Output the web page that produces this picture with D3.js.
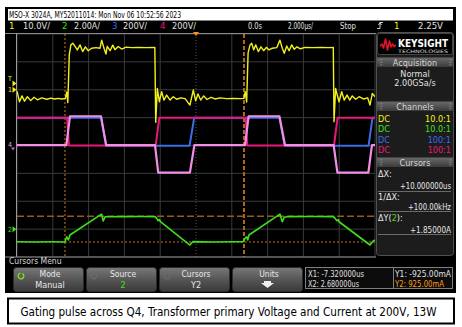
<!DOCTYPE html>
<html><head><meta charset="utf-8">
<script src="https://cdn.jsdelivr.net/npm/d3@7"></script>
<style>
html,body{margin:0;padding:0;background:#fff;}
svg{display:block;}
text{font-family:"Liberation Sans Narrow","DejaVu Sans Condensed","Liberation Sans",sans-serif;}
</style></head><body>
<svg id="c" width="462" height="327"></svg>
<script>
// ---------- data (time in µs, values in channel units) ----------
const ch1Wave = [[-10.0,-0.5],[-9.86,-4.3],[-9.72,-2.2],[-9.58,-4.1],[-9.42,-2.5],[-9.23,-3.9],[-9.05,-2.7],[-8.86,-3.6],[-8.62,-2.9],[-8.34,-3.4],[-8.10,-3.0],[-7.90,-3.3],[-7.70,-3.1],[-7.50,-3.3],[-7.30,-3.1],[-7.22,-0.8],[-7.16,-4.6],[-7.08,12.5],[-6.99,16.1],[-6.88,16.7],[-6.63,14.3],[-6.48,16.1],[-6.33,13.7],[-6.18,15.4],[-6.02,14.0],[-5.83,14.9],[-5.59,15.1],[-5.36,14.9],[-5.27,17.8],[-5.14,14.9],[-5.03,12.8],[-4.96,15.6],[-4.80,14.0],[-4.65,16.0],[-4.53,14.4],[-4.34,15.5],[-4.15,14.6],[-3.91,15.3],[-3.60,15.1],[-3.20,15.2],[-2.80,15.1],[-2.30,15.2],[-2.25,-11.7],[-2.16,0.5],[-2.05,-4.3],[-1.92,-0.7],[-1.79,-3.7],[-1.64,-1.9],[-1.45,-3.7],[-1.27,-2.5],[-1.08,-3.4],[-0.85,-2.9],[-0.61,-3.2],[-0.34,-5.5],[-0.15,-0.1],[-0.02,-4.0],[0.11,-1.5],[0.26,-3.7],[0.43,-2.2],[0.61,-3.5],[0.84,-2.7],[1.06,-3.3],[1.34,-2.9],[1.70,-3.2],[2.10,-3.1],[2.50,-3.2],[2.68,-3.1],[2.75,-0.7],[2.83,-4.4],[2.91,13.2],[3.02,16.1],[3.11,16.7],[3.22,14.3],[3.34,16.1],[3.48,13.7],[3.63,15.4],[3.78,14.0],[3.93,15.2],[4.08,14.3],[4.26,14.9],[4.51,15.1],[4.69,17.8],[4.82,14.9],[4.93,13.1],[5.07,15.7],[5.20,14.0],[5.35,16.1],[5.49,14.5],[5.64,15.4],[5.83,14.7],[6.09,15.2],[6.50,15.1],[7.00,15.2],[7.40,15.1],[7.67,15.2],[7.71,-11.5],[7.80,0.5],[7.89,-1.9],[7.99,-4.3],[8.14,-0.7],[8.28,-3.7],[8.44,-1.9],[8.59,-3.7],[8.73,-2.2],[8.92,-3.4],[9.11,-2.5],[9.35,-3.3],[9.59,-2.9],[9.72,-5.5],[9.85,-1.3],[10.0,-2.5]];
const ch2Wave = [[-10,-0.91],[-9.0,-0.92],[-8.0,-0.91],[-7.33,-0.92],[-7.22,-0.55],[-7.13,-0.78],[-7.04,-0.42],[-5.28,1.08],[-5.18,0.58],[-5.08,0.89],[-4.0,0.90],[-3.0,0.91],[-2.29,0.90],[-2.20,0.77],[-2.11,0.60],[-2.04,0.68],[-1.99,0.53],[-0.34,-1.14],[-0.18,-0.90],[1.0,-0.92],[2.0,-0.91],[2.64,-0.90],[2.74,-0.66],[2.83,-0.55],[2.89,-0.78],[2.96,-0.42],[4.69,1.08],[4.82,0.53],[4.93,0.85],[5.20,0.90],[6.5,0.91],[7.67,0.90],[7.77,0.77],[7.88,0.60],[7.95,0.68],[7.99,0.53],[9.72,-1.14],[9.86,-0.90],[10,-0.78]];
const ch3Wave = [[-10,200],[-5.30,200],[-5.02,-2],[-0.36,-2],[-0.10,200],[4.66,200],[4.96,-2],[9.64,-2],[9.86,200],[10,200]];
const ch4Wave = [[-10,200],[-7.20,200],[-7.10,0],[-2.25,0],[-2.05,200],[2.78,200],[2.86,0],[7.71,0],[7.91,200],[10,200]];
const mathWave = [[-10,3],[-7.24,3],[-7.04,210],[-5.31,210],[-5.02,3],[-2.29,3],[-2.11,-195],[-0.34,-195],[-0.09,3],[2.74,3],[2.94,210],[4.66,210],[4.97,3],[7.69,3],[7.90,-195],[9.63,-195],[9.83,3],[10,3]];
const cursorX = [-7.32, 2.68];       // µs
const cursorY = [-0.925, 0.925];     // A on ch2
const triggerLevel = 2.25;           // V on ch1
const chScale = [10, 2, 200, 200];   // units/div
const chPos = [2, -3, 0, 0];         // divisions
const chNames = ["1","2","3","4"];
const chVdiv = ["10.0V/","2.00A/","200V/","200V/"];
const chProbe = ["10.0:1","10.0:1","100:1","100:1"];
const titleText = "MSO-X 3024A, MY52011014: Mon Nov 06 10:52:56 2023";
const timeRow = ["0.0s","2.000\u00b5s/","Stop"];
const cursorReadout = ["X1: -7.320000us","X2: 2.680000us","Y1: -925.00mA","Y2: 925.00mA"];
const panelCursors = ["\u0394X:","+10.000000us","1/\u0394X:","+100.00kHz","+1.85000A"];
const softkeys = [["Mode","Manual"],["Source","2"],["Cursors","Y2"],["Units",""]];
const caption = "Gating pulse across Q4, Transformer primary Voltage and Current at 200V, 13W";

// ---------- drawing ----------
const colors = ["#f2f21a","#3ee01a","#3a6ee8","#e8187a"];
const mathColor = "#f28ee6";
const svg = d3.select("#c");
const defs = svg.append("defs");
const g1 = defs.append("linearGradient").attr("id","hdr").attr("x1",0).attr("y1",0).attr("x2",0).attr("y2",1);
g1.append("stop").attr("offset","0").attr("stop-color","#6a6a6a");
g1.append("stop").attr("offset","1").attr("stop-color","#3a3a3a");
const g2 = defs.append("linearGradient").attr("id","btn").attr("x1",0).attr("y1",0).attr("x2",0).attr("y2",1);
g2.append("stop").attr("offset","0").attr("stop-color","#787878");
g2.append("stop").attr("offset","0.5").attr("stop-color","#565656");
g2.append("stop").attr("offset","1").attr("stop-color","#3a3a3a");
defs.append("clipPath").attr("id","clip").append("rect").attr("x",17).attr("y",34).attr("width",358).attr("height",223);

svg.append("rect").attr("width",462).attr("height",327).attr("fill","#fff");
// scope screen
svg.append("rect").attr("x",5).attr("y",7).attr("width",451).attr("height",286).attr("fill","#000");
svg.append("rect").attr("x",8).attr("y",9).attr("width",445).attr("height",11.5).attr("fill","#fff");
svg.append("text").attr("x",9).attr("y",18.3).attr("font-size",9.5).attr("fill","#000")
  .attr("textLength",172).attr("lengthAdjust","spacingAndGlyphs").text(titleText);

// channel row
const chX = [9,62,112,160], chVx = [23,74,123,172], chVw = [27,26,24,24];
chNames.forEach((n,i)=>{
  svg.append("text").attr("x",chX[i]).attr("y",29.3).attr("font-size",9.5).attr("fill",colors[i]).text(n);
  svg.append("text").attr("x",chVx[i]).attr("y",29.3).attr("font-size",9.5).attr("fill","#e0e0e0")
    .attr("textLength",chVw[i]).attr("lengthAdjust","spacingAndGlyphs").text(chVdiv[i]);
});
const trX = [248,288,340], trW=[14,25,16];
timeRow.forEach((s,i)=>svg.append("text").attr("x",trX[i]).attr("y",29.3).attr("font-size",9.5).attr("fill","#e0e0e0")
  .attr("textLength",trW[i]).attr("lengthAdjust","spacingAndGlyphs").text(s));
svg.append("path").attr("d","M377,28.5 h3 v-6 h3 M378.5,25 l1.5,-2.5 l1.5,2.5").attr("stroke","#e0e0e0").attr("fill","none").attr("stroke-width",0.9);
svg.append("text").attr("x",394).attr("y",29.3).attr("font-size",9.5).attr("fill",colors[0]).text("1");
svg.append("text").attr("x",418).attr("y",29.3).attr("font-size",9.5).attr("fill","#e0e0e0")
  .attr("textLength",25).attr("lengthAdjust","spacingAndGlyphs").text(triggerLevel.toFixed(2)+"V");

// scales
const x = d3.scaleLinear().domain([-10,10]).range([17,375]);
const yd = d3.scaleLinear().domain([-4,4]).range([257,34]);
const yCh = (i,v)=>yd(v/chScale[i]+chPos[i]);

// grid
const grid = svg.append("g");
d3.range(-10,10.01,2).forEach(t=>{
  grid.append("line").attr("x1",x(t)).attr("x2",x(t)).attr("y1",34).attr("y2",257)
    .attr("stroke", t===0?"#555":"#3a3a3a").attr("stroke-width",1)
    .attr("stroke-dasharray", t===0?"1,2":null);
});
d3.range(-4,4.01,1).forEach(d=>{
  grid.append("line").attr("x1",17).attr("x2",375).attr("y1",yd(d)).attr("y2",yd(d))
    .attr("stroke","#3a3a3a").attr("stroke-width",1);
});
grid.append("line").attr("x1",5).attr("x2",376).attr("y1",33.5).attr("y2",33.5).attr("stroke","#8a8a8a");
grid.append("line").attr("x1",16.5).attr("x2",16.5).attr("y1",33.5).attr("y2",257).attr("stroke","#9a9a9a");
grid.append("line").attr("x1",5).attr("x2",376).attr("y1",257).attr("y2",257).attr("stroke","#8a8a8a");

// cursors
const cur = svg.append("g").attr("clip-path","url(#clip)");
cur.append("line").attr("x1",x(cursorX[0])).attr("x2",x(cursorX[0])).attr("y1",34).attr("y2",257)
  .attr("stroke","#d07a20").attr("stroke-width",1).attr("stroke-dasharray","2,2");
cur.append("line").attr("x1",x(cursorX[1])).attr("x2",x(cursorX[1])).attr("y1",34).attr("y2",257)
  .attr("stroke","#b0681c").attr("stroke-width",2).attr("stroke-dasharray","4,2");
cur.append("line").attr("x1",17).attr("x2",375).attr("y1",yCh(1,cursorY[0])).attr("y2",yCh(1,cursorY[0]))
  .attr("stroke","#c0701c").attr("stroke-width",1).attr("stroke-dasharray","2,2");
cur.append("line").attr("x1",17).attr("x2",375).attr("y1",yCh(1,cursorY[1])).attr("y2",yCh(1,cursorY[1]))
  .attr("stroke","#9a5a1c").attr("stroke-width",1.5).attr("stroke-dasharray","7,3");

// traces
const tr = svg.append("g").attr("clip-path","url(#clip)");
function trace(data, color, w, scaleIdx){
  const line = d3.line().x(d=>x(d[0])).y(d=>yCh(scaleIdx,d[1]));
  tr.append("path").datum(data).attr("d",line).attr("fill","none").attr("stroke",color)
    .attr("stroke-width",w).attr("stroke-linejoin","round");
}
trace(ch3Wave,colors[2],2,2);
trace(ch4Wave,colors[3],2,3);
trace(mathWave,mathColor,2.2,2);
trace(ch2Wave,colors[1],1.6,1);
trace(ch1Wave,colors[0],1.4,0);

// trigger position marker
svg.append("path").attr("d",`M${x(0)-3},32 L${x(0)+3},32 L${x(0)},36 Z`).attr("fill","#ff8a1a");

// left markers
function marker(y,label,color,textDy){
  svg.append("path").attr("d",`M12.5,${y-3} L16.5,${y} L12.5,${y+3} Z`).attr("fill",color);
  svg.append("text").attr("x",8).attr("y",y+2.5+(textDy||0)).attr("font-size",7).attr("fill",color).text(label);
}
marker(yCh(0,triggerLevel),"T",colors[0],-5);
marker(yCh(0,0),"1",colors[0]);
marker(yCh(1,0),"2",colors[1]);
svg.append("text").attr("x",8).attr("y",yCh(3,0)+1.5).attr("font-size",7).attr("fill","#f0a0e0").text("4");
svg.append("path").attr("d",`M11,${yCh(3,0)+2} L15,${yCh(3,0)+2} L13,${yCh(3,0)+5} Z`).attr("fill","#b070d0");

// right panel
svg.append("rect").attr("x",376.5).attr("y",32.5).attr("width",77).attr("height",223).attr("rx",3)
  .attr("fill","#1c1c1c").attr("stroke","#505050");
svg.append("rect").attr("x",377.5).attr("y",33.5).attr("width",75).attr("height",21).attr("rx",2)
  .attr("fill","#000").attr("stroke","#444");
svg.append("path").attr("d","M380,46 L382,44 L383.5,48 L385.5,39 L387.5,50 L389.5,41 L391,47 L392.5,44 L394,46.5 L396,45")
  .attr("fill","none").attr("stroke","#e8102a").attr("stroke-width",1.6).attr("stroke-linejoin","round");
svg.append("text").attr("x",398).attr("y",46.5).attr("font-size",10).attr("font-weight","bold").attr("fill","#fff")
  .attr("font-family","Liberation Sans, Arial, sans-serif")
  .attr("textLength",50).attr("lengthAdjust","spacingAndGlyphs").text("KEYSIGHT");
svg.append("text").attr("x",398).attr("y",52.5).attr("font-size",4.6).attr("fill","#ddd")
  .attr("font-family","Liberation Sans, Arial, sans-serif")
  .attr("textLength",50).attr("lengthAdjust","spacingAndGlyphs").text("TECHNOLOGIES");

function header(y,label){
  svg.append("rect").attr("x",377).attr("y",y).attr("width",76).attr("height",9.5).attr("fill","url(#hdr)");
  svg.append("text").attr("x",415).attr("y",y+8).attr("font-size",9).attr("fill","#d8d8d8").attr("text-anchor","middle").text(label);
  [380,449].forEach(gx=>{ [2,4.5,7].forEach(dy=>svg.append("rect").attr("x",gx).attr("y",y+dy).attr("width",2.5).attr("height",0.8).attr("fill","#888")); });
}
header(57.5,"Acquisition");
svg.append("text").attr("x",415).attr("y",76.5).attr("font-size",9).attr("fill","#e0e0e0").attr("text-anchor","middle").text("Normal");
svg.append("text").attr("x",415).attr("y",86).attr("font-size",9).attr("fill","#e0e0e0").attr("text-anchor","middle").text("2.00GSa/s");
header(101.5,"Channels");
const rowY = [121.5,132,142.5,153];
chProbe.forEach((p,i)=>{
  svg.append("text").attr("x",378).attr("y",rowY[i]).attr("font-size",9).attr("fill",colors[i]).text("DC");
  svg.append("text").attr("x",451).attr("y",rowY[i]).attr("font-size",9).attr("fill",colors[i]).attr("text-anchor","end").text(p);
});
header(157.5,"Cursors");
const pc = svg.append("g").attr("font-size",9).attr("fill","#e8e8e8");
pc.append("text").attr("x",378).attr("y",176.5).text(panelCursors[0]);
pc.append("text").attr("x",451).attr("y",188.5).attr("text-anchor","end").attr("textLength",51).attr("lengthAdjust","spacingAndGlyphs").text(panelCursors[1]);
pc.append("text").attr("x",378).attr("y",200).text(panelCursors[2]);
pc.append("text").attr("x",451).attr("y",210).attr("text-anchor","end").attr("textLength",43).attr("lengthAdjust","spacingAndGlyphs").text(panelCursors[3]);
const dy = pc.append("text").attr("x",378).attr("y",220.5);
dy.append("tspan").text("\u0394Y(");
dy.append("tspan").attr("fill",colors[1]).text("2");
dy.append("tspan").text("):");
pc.append("text").attr("x",451).attr("y",232.5).attr("text-anchor","end").attr("textLength",41).attr("lengthAdjust","spacingAndGlyphs").text(panelCursors[4]);
[191.5,211.5,234.5].forEach(ly=>svg.append("line").attr("x1",378).attr("x2",451).attr("y1",ly).attr("y2",ly).attr("stroke","#6a6a6a"));

// softkeys
svg.append("text").attr("x",9).attr("y",263.5).attr("font-size",8.5).attr("fill","#d8d8d8").text("Cursors Menu");
const bx = [13,86,159,232];
softkeys.forEach((k,i)=>{
  svg.append("rect").attr("x",bx[i]+0.5).attr("y",267.5).attr("width",70).attr("height",24).attr("rx",3)
    .attr("fill","url(#btn)").attr("stroke","#2c2c2c");
  const cx = bx[i]+37;
  svg.append("text").attr("x",cx).attr("y",276.5).attr("font-size",8.5).attr("fill","#e8e8e8").attr("text-anchor","middle").text(k[0]);
  if(k[1]) svg.append("text").attr("x",cx).attr("y",288).attr("font-size",9).attr("text-anchor","middle")
    .attr("fill", i===1?colors[1]:"#e8e8e8").text(k[1]);
  if(i<3){
    const ix = bx[i]+8, iy=276;
    svg.append("path").attr("d",d3.arc()({innerRadius:2,outerRadius:3.5,startAngle:0.6,endAngle:2*Math.PI-0.2}))
      .attr("transform",`translate(${ix},${iy})`).attr("fill", i===0?"#7ee21a":"#6a6a6a");
  }
});
svg.append("path").attr("d","M261,283 h13 l-6.5,5 Z M264,281 h7 v2 h-7 Z").attr("fill","#f0f0f0");

// readout box
svg.append("rect").attr("x",305.5).attr("y",267.5).attr("width",147).attr("height",21).attr("fill","#0c0c0c").attr("stroke","#808080");
svg.append("line").attr("x1",393.5).attr("x2",393.5).attr("y1",267.5).attr("y2",288.5).attr("stroke","#808080");
const rx=[308,308,395,395], ry=[276.5,286.5,276.5,286.5], rw=[56,51,56,49], rc=["#e0e0e0","#e0e0e0","#e0e0e0","#ff9a1a"];
cursorReadout.forEach((s,i)=>svg.append("text").attr("x",rx[i]).attr("y",ry[i]).attr("font-size",9).attr("fill",rc[i])
  .attr("textLength",rw[i]).attr("lengthAdjust","spacingAndGlyphs").text(s));

// caption
svg.append("rect").attr("x",8).attr("y",298.5).attr("width",446).attr("height",25).attr("fill","#fff").attr("stroke","#000").attr("stroke-width",2);
svg.append("text").attr("x",20.5).attr("y",315.5).attr("font-size",12).attr("fill","#000")
  .attr("font-family","Liberation Sans, Arial, sans-serif")
  .attr("textLength",416).attr("lengthAdjust","spacingAndGlyphs").text(caption);
</script>
</body></html>
